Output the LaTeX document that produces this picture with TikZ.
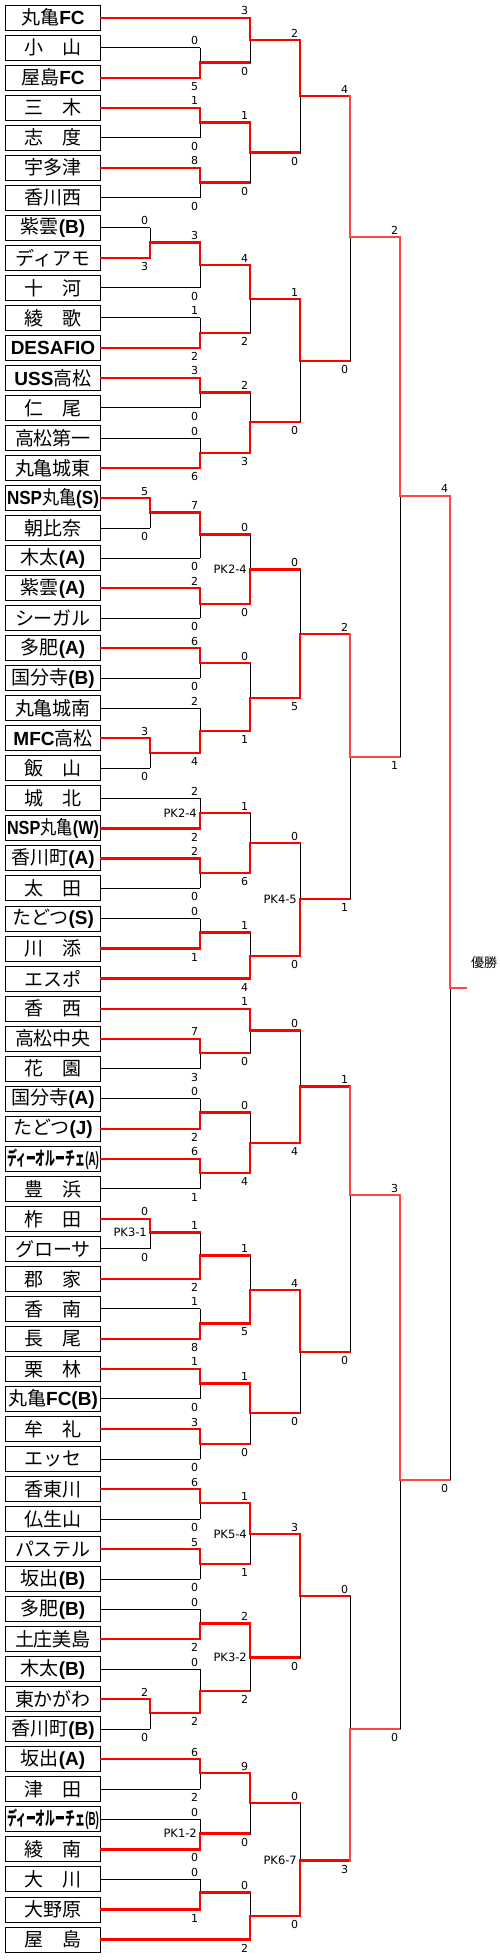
\documentclass[tikz,border=0pt]{standalone}
\usepackage{fontspec}
\usepackage{graphicx}
\newfontfamily\jp{Noto Sans CJK JP}
\newfontfamily\lat{Liberation Sans}
\newfontfamily\num{DejaVu Sans}
\definecolor{lred}{RGB}{255,68,68}
\newcommand\B[1]{{\lat\bfseries #1}}
\newcommand\Jb[1]{{\jp\bfseries #1}}
\newsavebox\nb
\newcommand\fitname[1]{\sbox\nb{#1}\ifdim\wd\nb>92pt\relax\pgfmathsetmacro\fsc{92/\wd\nb}\scalebox{\fsc}[1]{\usebox\nb}\else\usebox\nb\fi}
\def\firstof#1#2\relax{#1}
\tikzset{
 team/.style={draw=black, line width=1pt, minimum width=95pt, minimum height=25pt, inner sep=0pt, font=\jp\fontsize{19}{19}\selectfont},
 win/.style={draw=red, line width=2.2pt, line cap=rect},
 winl/.style={draw=lred, line width=2pt, line cap=rect},
 lose/.style={draw=black, line width=1pt},
 score/.style={inner sep=0pt, font=\num\fontsize{11}{11}\selectfont},
 pk/.style={inner sep=0pt, anchor=east, xshift=-3pt, font=\num\fontsize{11.5}{11.5}\selectfont},
}
% #1 name, #2 x, #3 yout, #4 top src, #5 bottom src, #6 winner t/b, #7 top score, #8 bottom score, #9 PK
\newcommand\match[9]{%
  \coordinate (#1) at (#2,#3);
  \ifnum#2<320 \tikzset{cur/.style={win}}\else\tikzset{cur/.style={winl}}\fi
  \if t#6\tikzset{tops/.style={win},bots/.style={lose}}\else\tikzset{tops/.style={lose},bots/.style={win}}\fi
  \edef\ftop{\firstof#4\relax}\edef\fbot{\firstof#5\relax}%
  \if t\ftop \draw[tops] (#4.east) -- (#4 -| #1);\fi
  \if t\fbot \draw[bots] (#5.east) -- (#5 -| #1);\fi
  \if t#6
    \draw[lose] (#1) -- (#5 -| #1);
    \draw[cur] (#4 -| #1) -- (#1);
  \else
    \draw[lose] (#4 -| #1) -- (#1);
    \draw[cur] (#1) -- (#5 -| #1);
  \fi
  \ifnum#2=450 \draw[cur] (#1) -- ++(16,0);\else\draw[cur] (#1) -- ++(50,0);\fi
  \node[score,xshift=-5.5pt,yshift=7pt] at (#4 -| #1) {#7};
  \node[score,xshift=-5.5pt,yshift=-8.5pt] at (#5 -| #1) {#8};
  \node[pk] at (#1) {#9};
}
\begin{document}
\begin{tikzpicture}[x=1pt,y=-1pt]
\useasboundingbox (0,0) rectangle (500,1960);
\fill[white] (0,0) rectangle (500,1960);
\foreach \i/\n in {
1/{丸亀\B{FC}},2/{小　山},3/{屋島\B{FC}},4/{三　木},5/{志　度},6/{宇多津},7/{香川西},8/{紫雲\B{(B)}},
9/{ディアモ},10/{十　河},11/{綾　歌},12/{\B{DESAFIO}},13/{\B{USS}高松},14/{仁　尾},15/{高松第一},16/{丸亀城東},
17/{\B{NSP}丸亀\B{(S)}},18/{朝比奈},19/{木太\B{(A)}},20/{紫雲\B{(A)}},21/{シーガル},22/{多肥\B{(A)}},23/{国分寺\B{(B)}},24/{丸亀城南},
25/{\B{MFC}高松},26/{飯　山},27/{城　北},28/{\B{NSP}丸亀\B{(W)}},29/{香川町\B{(A)}},30/{太　田},31/{たどつ\B{(S)}},32/{川　添},
33/{エスポ},34/{香　西},35/{高松中央},36/{花　園},37/{国分寺\B{(A)}},38/{たどつ\B{(J)}},39/{\Jb{ディーオルーチェ}\B{(A)}},40/{豊　浜},
41/{柞　田},42/{グローサ},43/{郡　家},44/{香　南},45/{長　尾},46/{栗　林},47/{丸亀\B{FC(B)}},48/{牟　礼},
49/{エッセ},50/{香東川},51/{仏生山},52/{パステル},53/{坂出\B{(B)}},54/{多肥\B{(B)}},55/{土庄美島},56/{木太\B{(B)}},
57/{東かがわ},58/{香川町\B{(B)}},59/{坂出\B{(A)}},60/{津　田},61/{\Jb{ディーオルーチェ}\B{(B)}},62/{綾　南},63/{大　川},64/{大野原},65/{屋　島}}
{\node[team] (t\i) at (53,{17.6+30.03*(\i-1)}) {\fitname{\n}};}

\match{a1}{200}{62.5}{t2}{t3}{b}{0}{5}{}
\match{a2}{250}{40}{t1}{a1}{t}{3}{0}{}
\match{a3}{200}{122.5}{t4}{t5}{t}{1}{0}{}
\match{a4}{200}{182.5}{t6}{t7}{t}{8}{0}{}
\match{a5}{250}{152.5}{a3}{a4}{t}{1}{0}{}
\match{a6}{300}{96.2}{a2}{a5}{t}{2}{0}{}
\match{a7}{150}{242.5}{t8}{t9}{b}{0}{3}{}
\match{a8}{200}{265}{a7}{t10}{t}{3}{0}{}
\match{a9}{200}{333}{t11}{t12}{b}{1}{2}{}
\match{a10}{250}{299}{a8}{a9}{t}{4}{2}{}
\match{a11}{200}{392.5}{t13}{t14}{t}{3}{0}{}
\match{a12}{200}{453}{t15}{t16}{b}{0}{6}{}
\match{a13}{250}{422}{a11}{a12}{b}{2}{3}{}
\match{a14}{300}{361}{a10}{a13}{t}{1}{0}{}
\match{a15}{350}{237.3}{a6}{a14}{t}{4}{0}{}

\match{b1}{150}{512.5}{t17}{t18}{t}{5}{0}{}
\match{b2}{200}{534.5}{b1}{t19}{t}{7}{0}{}
\match{b3}{200}{604}{t20}{t21}{t}{2}{0}{}
\match{b4}{250}{569.5}{b2}{b3}{b}{0}{0}{PK2-4}
\match{b5}{200}{663}{t22}{t23}{t}{6}{0}{}
\match{b6}{150}{753}{t25}{t26}{t}{3}{0}{}
\match{b7}{200}{731}{t24}{b6}{b}{2}{4}{}
\match{b8}{250}{698}{b5}{b7}{b}{0}{1}{}
\match{b9}{300}{634}{b4}{b8}{b}{0}{5}{}
\match{b10}{200}{813}{t27}{t28}{b}{2}{2}{PK2-4}
\match{b11}{200}{873}{t29}{t30}{t}{2}{0}{}
\match{b12}{250}{843}{b10}{b11}{b}{1}{6}{}
\match{b13}{200}{932.5}{t31}{t32}{b}{0}{1}{}
\match{b14}{250}{956}{b13}{t33}{b}{1}{4}{}
\match{b15}{300}{899}{b12}{b14}{b}{0}{0}{PK4-5}
\match{b16}{350}{756.7}{b9}{b15}{t}{2}{1}{}
\match{c0}{400}{495.7}{a15}{b16}{t}{2}{1}{}

\match{c1}{200}{1053}{t35}{t36}{t}{7}{3}{}
\match{c2}{250}{1030.5}{t34}{c1}{t}{1}{0}{}
\match{c3}{200}{1112.5}{t37}{t38}{b}{0}{2}{}
\match{c4}{200}{1173}{t39}{t40}{t}{6}{1}{}
\match{c5}{250}{1143}{c3}{c4}{b}{0}{4}{}
\match{c6}{300}{1086.5}{c2}{c5}{b}{0}{4}{}
\match{c7}{150}{1232.5}{t41}{t42}{t}{0}{0}{PK3-1}
\match{c8}{200}{1255.5}{c7}{t43}{b}{1}{2}{}
\match{c9}{200}{1323.5}{t44}{t45}{b}{1}{8}{}
\match{c10}{250}{1290}{c8}{c9}{b}{1}{5}{}
\match{c11}{200}{1383.5}{t46}{t47}{t}{1}{0}{}
\match{c12}{200}{1444}{t48}{t49}{t}{3}{0}{}
\match{c13}{250}{1413}{c11}{c12}{t}{1}{0}{}
\match{c14}{300}{1352}{c10}{c13}{t}{4}{0}{}
\match{c15}{350}{1195}{c6}{c14}{t}{1}{0}{}

\match{d1}{200}{1503}{t50}{t51}{t}{6}{0}{}
\match{d2}{200}{1564}{t52}{t53}{t}{5}{0}{}
\match{d3}{250}{1534}{d1}{d2}{t}{1}{1}{PK5-4}
\match{d4}{200}{1623.5}{t54}{t55}{b}{0}{2}{}
\match{d5}{150}{1713}{t57}{t58}{t}{2}{0}{}
\match{d6}{200}{1691}{t56}{d5}{b}{0}{2}{}
\match{d7}{250}{1657.5}{d4}{d6}{t}{2}{2}{PK3-2}
\match{d8}{300}{1596}{d3}{d7}{t}{3}{0}{}
\match{d9}{200}{1773}{t59}{t60}{t}{6}{2}{}
\match{d10}{200}{1833.5}{t61}{t62}{b}{0}{0}{PK1-2}
\match{d11}{250}{1803}{d9}{d10}{t}{9}{0}{}
\match{d12}{200}{1892.5}{t63}{t64}{b}{0}{1}{}
\match{d13}{250}{1916}{d12}{t65}{b}{0}{2}{}
\match{d14}{300}{1860.5}{d11}{d13}{b}{0}{0}{PK6-7}
\match{d15}{350}{1728.7}{d8}{d14}{b}{0}{3}{}
\match{e0}{400}{1480}{c15}{d15}{t}{3}{0}{}
\match{f0}{450}{988}{c0}{e0}{t}{4}{0}{}

\node[anchor=west, inner sep=0pt, font=\jp\fontsize{13}{13}\selectfont] (yusho) at (471,963) {優勝};
\end{tikzpicture}
\end{document}
